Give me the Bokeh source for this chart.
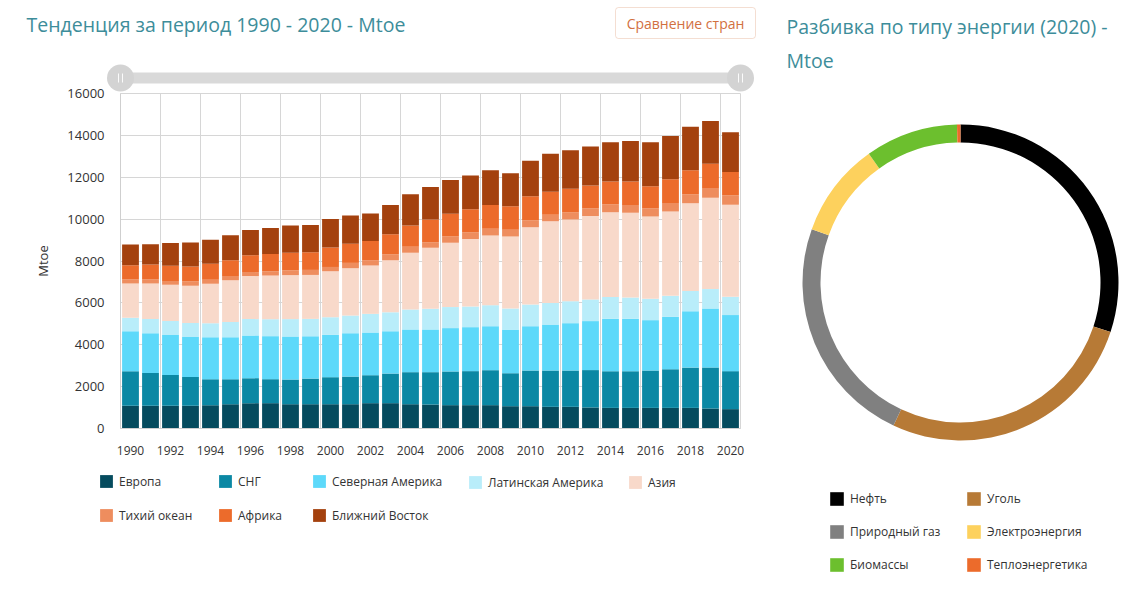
from bokeh.plotting import figure
from bokeh.models import (Range1d, FixedTicker, Label, BoxAnnotation, Legend, LegendItem,
                          ColumnDataSource, LinearAxis, Grid)
from bokeh.embed import file_html
from bokeh.resources import INLINE
import numpy as np

# ---------------- data ----------------
years = list(range(1990, 2021))
regions = ["Европа", "СНГ", "Северная Америка", "Латинская Америка", "Азия",
           "Тихий океан", "Африка", "Ближний Восток"]
europe = [1085, 1085, 1085, 1085, 1115, 1160, 1210, 1210, 1160, 1160, 1160, 1160, 1210, 1210, 1160, 1145,
          1115, 1115, 1115, 1065, 1065, 1035, 1035, 1005, 985, 985, 985, 985, 985, 955, 925]
cis = [1655, 1560, 1465, 1370, 1240, 1195, 1195, 1145, 1180, 1225, 1290, 1320, 1335, 1415, 1530, 1545,
       1610, 1625, 1670, 1575, 1705, 1735, 1735, 1785, 1750, 1750, 1785, 1845, 1925, 1960, 1815]
north_america = [1910, 1910, 1910, 1910, 2005, 2005, 2040, 2055, 2055, 2020, 2020, 2070, 2040, 2020, 2040, 2040,
                 2070, 2100, 2100, 2085, 2115, 2195, 2260, 2340, 2500, 2500, 2405, 2500, 2690, 2820, 2675]
latin_america = [635, 670, 670, 670, 670, 730, 780, 810, 830, 830, 845, 845, 890, 905, 955, 985,
                 1005, 985, 1005, 1005, 1035, 1035, 1050, 1035, 1050, 1020, 1020, 1005, 970, 925, 875]
asia = [1640, 1705, 1735, 1785, 1880, 1990, 2055, 2085, 2100, 2100, 2195, 2260, 2310, 2485, 2705, 2915,
        3070, 3230, 3330, 3440, 3695, 3900, 3900, 3980, 4045, 4045, 3930, 4030, 4185, 4365, 4395]
pacific = [190, 190, 175, 205, 190, 205, 190, 205, 225, 240, 205, 255, 240, 285, 285, 270,
           305, 320, 320, 320, 335, 305, 335, 380, 380, 380, 400, 400, 430, 460, 460]
africa = [685, 715, 730, 715, 765, 750, 810, 830, 845, 845, 925, 910, 925, 955, 1020, 1085,
          1080, 1100, 1130, 1130, 1145, 1100, 1130, 1085, 1085, 1115, 1050, 1145, 1145, 1160, 1100]
middle_east = [990, 970, 1085, 1145, 1145, 1195, 1195, 1240, 1305, 1305, 1370, 1355, 1320, 1400, 1495, 1545,
               1610, 1610, 1670, 1575, 1690, 1815, 1845, 1860, 1880, 1940, 2100, 2055, 2085, 2040, 1910]
region_colors = ["#054b5e", "#0b88a4", "#5dd9fa", "#b9edfa", "#f8d9ca", "#ee8d5e", "#ec6b2b", "#a4410e"]

y_ticks = [0, 2000, 4000, 6000, 8000, 10000, 12000, 14000, 16000]
x_tick_years = years[::2]

energy_types = ["Нефть", "Уголь", "Природный газ", "Электроэнергия", "Биомассы", "Теплоэнергетика"]
energy_values = [4260, 3810, 3330, 1370, 1345, 50]
energy_colors = ["#000000", "#b77a36", "#808080", "#fdd15d", "#6cbf2e", "#ec6b2b"]

TITLE_COLOR = "#3d8d9a"
FONT = "Open Sans"
GRID = "#d6d6d6"

# ---------------- layout (pixels) ----------------
W, H = 1136, 585
PL, PR, PT, PB = 120, 740, 93, 428          # plot-area box of the bar chart
xlo, xhi = years[0] - 0.5, years[-1] + 0.5
ylo, yhi = y_ticks[0], y_ticks[-1]
xpp = (xhi - xlo) / (PR - PL)
ypp = (yhi - ylo) / (PB - PT)
x_range = Range1d(xlo - PL * xpp, xlo - PL * xpp + W * xpp)
y_range = Range1d(ylo - (H - PB) * ypp, yhi + PT * ypp)

p = figure(width=W, height=H, min_border=0, x_range=x_range, y_range=y_range,
           x_axis_type=None, y_axis_type=None, output_backend="svg", toolbar_location=None,
           extra_x_ranges={"px": Range1d(0, W)}, extra_y_ranges={"px": Range1d(0, H)})
p.outline_line_color = None

# ---------------- stacked bars ----------------
keys = ["europe", "cis", "north_america", "latin_america", "asia", "pacific", "africa", "middle_east"]
src = ColumnDataSource(dict(year=years, europe=europe, cis=cis, north_america=north_america,
                            latin_america=latin_america, asia=asia, pacific=pacific,
                            africa=africa, middle_east=middle_east))

xgrid = Grid(dimension=0, ticker=FixedTicker(ticks=[y - 0.5 for y in x_tick_years] + [xhi]),
             cross_bounds=(ylo, yhi), grid_line_color=GRID)
ygrid = Grid(dimension=1, ticker=FixedTicker(ticks=y_ticks), cross_bounds=(xlo, xhi), grid_line_color=GRID)
p.add_layout(xgrid)
p.add_layout(ygrid)

rs = p.vbar_stack(keys, x="year", width=0.84, color=region_colors, line_color=None, source=src)

xaxis = LinearAxis(ticker=FixedTicker(ticks=x_tick_years), fixed_location=ylo, bounds=(xlo, xhi))
yaxis = LinearAxis(ticker=FixedTicker(ticks=y_ticks), fixed_location=xlo, bounds=(ylo, yhi),
                   axis_label="Mtoe")
for ax in (xaxis, yaxis):
    ax.axis_line_color = "#cfcfcf"
    ax.major_tick_line_color = None
    ax.minor_tick_line_color = None
    ax.major_label_text_font = FONT
    ax.major_label_text_color = "#333333"
xaxis.major_label_text_font_size = "12px"
yaxis.major_label_text_font_size = "13px"
xaxis.major_label_standoff = 11
yaxis.major_label_standoff = 10
yaxis.axis_label_text_font = FONT
yaxis.axis_label_text_font_size = "13px"
yaxis.axis_label_text_font_style = "normal"
yaxis.axis_label_text_color = "#333333"
yaxis.axis_label_standoff = 12
p.add_layout(xaxis, "below")
p.add_layout(yaxis, "left")

# title
p.add_layout(Label(x=26, y=24, x_units="canvas", y_units="canvas", text="Тенденция за период 1990 - 2020 - Mtoe",
                   text_font=FONT, text_font_size="19.5px",
                   text_color=TITLE_COLOR, text_baseline="middle", text_align="left"))
# button
p.add_layout(BoxAnnotation(left=615, right=755, top=7, bottom=38, left_units="canvas", right_units="canvas",
                           top_units="canvas", bottom_units="canvas", fill_color="white", fill_alpha=1,
                           line_color="#d9916b", line_width=1, border_radius=3))
p.add_layout(Label(x=685, y=22.5, x_units="canvas", y_units="canvas", text="Сравнение стран",
                   text_font=FONT, text_font_size="14px", text_color="#d2703f",
                   text_baseline="middle", text_align="center"))
# range slider decoration
p.add_layout(BoxAnnotation(left=PL, right=PR, top=72, bottom=83, left_units="canvas", right_units="canvas",
                           top_units="canvas", bottom_units="canvas", fill_color="#d9d9d9", fill_alpha=1,
                           line_color=None, border_radius=5))
for hx in (PL, PR):
    p.add_layout(BoxAnnotation(left=hx - 13.5, right=hx + 13.5, top=64, bottom=91, left_units="canvas",
                               right_units="canvas", top_units="canvas", bottom_units="canvas",
                               fill_color="#d3d3d3", fill_alpha=1, line_color=None, border_radius=14))
    for dx in (-2, 2):
        p.add_layout(BoxAnnotation(left=hx + dx - 0.5, right=hx + dx + 0.5, top=73, bottom=82,
                                   left_units="canvas", right_units="canvas", top_units="canvas",
                                   bottom_units="canvas", fill_color="white", fill_alpha=0.9, line_color=None))

# legends: one per column
legend_cols = [[0, 5], [1, 6], [2, 7], [3], [4]]
col_x = [98, 217, 311, 467, 627]
for cols, lx in zip(legend_cols, col_x):
    items = [LegendItem(label=regions[i], renderers=[rs[i]]) for i in cols]
    ly = H - 523.5 if len(cols) == 2 else H - 490.5
    lg = Legend(items=items, location=(lx, ly), orientation="vertical", glyph_width=16, glyph_height=16,
                label_height=16, spacing=17, padding=0, margin=0, border_line_color=None,
                background_fill_alpha=0, label_standoff=5, label_text_font=FONT,
                label_text_font_size="12px", label_text_color="#333333")
    p.add_layout(lg, "center")

# ---------------- donut ----------------
cx, cy = 960, H - 282
total = float(sum(energy_values))
frac = np.array(energy_values) / total
cum = np.concatenate([[0.0], np.cumsum(frac)])
dsrc = ColumnDataSource(dict(label=energy_types, color=energy_colors,
                             start=np.pi / 2 - 2 * np.pi * cum[:-1],
                             end=np.pi / 2 - 2 * np.pi * cum[1:]))
wr = p.annular_wedge(x=cx, y=cy, inner_radius=140, outer_radius=158, inner_radius_units="screen",
                     outer_radius_units="screen", start_angle="start", end_angle="end", direction="clock",
                     color="color", line_color=None, source=dsrc, x_range_name="px", y_range_name="px")
p.add_layout(Label(x=786, y=26, x_units="canvas", y_units="canvas", text="Разбивка по типу энергии (2020) -",
                   text_font=FONT, text_font_size="19.5px",
                   text_color=TITLE_COLOR, text_baseline="middle", text_align="left"))
p.add_layout(Label(x=786, y=60, x_units="canvas", y_units="canvas", text="Mtoe",
                   text_font=FONT, text_font_size="19.5px",
                   text_color=TITLE_COLOR, text_baseline="middle", text_align="left"))
for ci, lx in enumerate([828, 965]):
    items = [LegendItem(label=energy_types[i], renderers=[wr], index=i) for i in (ci, ci + 2, ci + 4)]
    lg = Legend(items=items, location=(lx, H - 572.5), orientation="vertical", glyph_width=17, glyph_height=17,
                label_height=17, spacing=16, padding=0, margin=0, border_line_color=None,
                background_fill_alpha=0, label_standoff=5, label_text_font=FONT,
                label_text_font_size="12px", label_text_color="#333333")
    p.add_layout(lg, "center")

open("out.html", "w").write(file_html(p, INLINE))
